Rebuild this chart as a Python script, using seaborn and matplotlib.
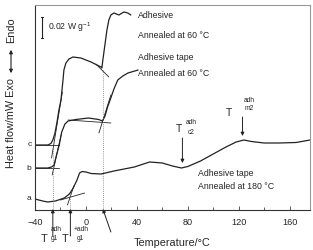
import matplotlib
matplotlib.use('Agg')
import pandas as pd
import matplotlib.pyplot as plt
import seaborn as sns

sns.set_theme(style="ticks")
plt.rcParams['font.family'] = ['Liberation Sans', 'DejaVu Sans']
plt.rcParams['mathtext.fontset'] = 'custom'
plt.rcParams['mathtext.rm'] = 'Liberation Sans'

# curve a: adhesive tape annealed at 180 C
a_temp = [-40, -34, -30, -24, -17, -13, -10, -7, -5, -3, 0, 4, 12, 22, 38, 50,
          60, 68, 75, 80, 90, 100, 110, 118, 124, 130, 140, 152, 165, 176]
a_flow = [11, 9, 8, 9, 12, 16, 22, 30, 37, 38.5, 38, 36.5, 36, 39, 43, 48,
          47, 44, 42, 43.5, 49, 56, 63, 68, 70, 68.5, 67, 67, 67.5, 70]

# curve b: adhesive tape annealed at 60 C
b_temp = [-40, -30, -27, -25, -23.5, -21, -19, -16.5, -14, -8, 2, 10, 13,
          15, 17, 19, 22, 25, 29, 33, 41]
b_flow = [42, 42, 43, 45, 53, 65, 78, 86, 89, 90.5, 92, 90.5, 89,
          94, 103, 110, 121, 130, 134, 137, 140]

# curve c: adhesive annealed at 60 C
c_temp = [-40, -30, -27.5, -26, -24.3, -22.7, -21.2, -19.6, -18, -17.3, -15.7,
          -13.3, -10.2, -4, 4, 11.8, 12.5, 13.3, 14.9, 16.5, 18, 19.6, 22,
          25.9, 29.8, 32.9, 35.3]
c_flow = [65, 65, 66.5, 70, 77, 88, 100, 110, 130, 140, 147,
          151, 153, 152, 148, 143, 142, 150, 165, 180, 190, 195, 197,
          195, 198, 197, 195]

# tangent construction lines (temp pair, flow pair)
tangent_temp = [(-40, -21), (-27, -18.5), (-40, -21), (-26.5, -19.5),
                (-20, -1), (-14.5, -9.5), (-14, 19.6), (10.2, 19.6), (7.8, 18)]
tangent_flow = [(65, 65), (52, 118), (42, 42), (35, 75),
                (10, 17), (5, 24), (90, 87), (77, 115), (146, 133)]

# dotted guide lines at the transitions
guide_temp = [-26, -12.2, 13.3]
guide_top = [62, 20, 140]

ink = '#222222'

df = pd.concat([
    pd.DataFrame({'T': a_temp, 'hf': a_flow, 'curve': 'a'}),
    pd.DataFrame({'T': b_temp, 'hf': b_flow, 'curve': 'b'}),
    pd.DataFrame({'T': c_temp, 'hf': c_flow, 'curve': 'c'}),
])

fig = plt.figure(figsize=(3.13, 2.5), dpi=100)
ax = fig.add_axes([35 / 313, 40 / 250, 275 / 313, 205 / 250])

sns.lineplot(data=df, x='T', y='hf', units='curve', estimator=None, sort=False,
             color=ink, lw=0.9, ax=ax, legend=False)

for tx, ty in zip(tangent_temp, tangent_flow):
    ax.plot(tx, ty, color=ink, lw=0.6)

for gx, gt in zip(guide_temp, guide_top):
    ax.plot([gx, gx], [0, gt], color='#777777', lw=0.6, ls=(0, (1, 1.5)))

ax.set_xlim(-40, 176)
ax.set_ylim(0, 205)
ax.set_xticks([-40, 0, 40, 80, 120, 160])
ax.set_xticks([-20, 20, 60, 100, 140], minor=True)
ax.set_yticks([])
ax.tick_params(axis='x', direction='in', length=3, width=0.6, labelsize=6.6,
               pad=6, color='#444444')
ax.tick_params(axis='x', which='minor', direction='in', length=2, width=0.6,
               color='#444444')
ax.set_xlabel('Temperature/°C', fontsize=7.8, labelpad=8)
ax.set_ylabel('')
for side in ['left', 'bottom']:
    ax.spines[side].set_color('#333333')
    ax.spines[side].set_linewidth(0.8)
for side in ['top', 'right']:
    ax.spines[side].set_color('#999999')
    ax.spines[side].set_linewidth(0.8)

# curve letters
for lab, yy in zip(['a', 'b', 'c'], [a_flow[0], b_flow[0], c_flow[0]]):
    ax.text(-44.5, yy, lab, fontsize=6, ha='center', va='center', clip_on=False)

# scale bar
ax.plot([-34.5, -34.5], [172, 193], color=ink, lw=0.8)
ax.plot([-35.6, -33.4], [193, 193], color=ink, lw=0.8)
ax.plot([-35.6, -33.4], [172, 172], color=ink, lw=0.8)
ax.text(-30, 183, '0.02 W g$^{-1}$', fontsize=6.2, va='center')

# curve descriptions
tfs = 6.3
ax.text(41, 195, 'Adhesive', fontsize=tfs, va='center')
ax.text(41, 175, 'Annealed at 60 °C', fontsize=tfs, va='center')
ax.text(41, 153, 'Adhesive tape', fontsize=tfs, va='center')
ax.text(41, 137, 'Annealed at 60 °C', fontsize=tfs, va='center')
ax.text(88, 36.5, 'Adhesive tape', fontsize=tfs, va='center')
ax.text(88, 23.3, 'Annealed at 180 °C', fontsize=tfs, va='center')

arrow = dict(arrowstyle='-|>', color=ink, lw=0.7, mutation_scale=5,
             shrinkA=0, shrinkB=0)

# transitions on curve a
ax.annotate('', xy=(75.8, 47), xytext=(75.8, 72), arrowprops=arrow)
ax.text(73.3, 81, 'T', fontsize=7.5, ha='center', va='center')
ax.text(83, 87, 'adh', fontsize=4.8, ha='center', va='center')
ax.text(82.4, 78, 'c2', fontsize=4.8, ha='center', va='center')

ax.annotate('', xy=(123, 74), xytext=(123, 93), arrowprops=arrow)
ax.text(112.5, 96.5, 'T', fontsize=7.5, ha='center', va='center')
ax.text(128, 109.5, 'adh', fontsize=4.8, ha='center', va='center')
ax.text(128, 101, 'm2', fontsize=4.8, ha='center', va='center')

# glass transition arrows below the axis
ax.annotate('', xy=(-26, 1), xytext=(-26, -26), arrowprops=arrow,
            annotation_clip=False)
ax.annotate('', xy=(-12.2, 1), xytext=(-12.2, -26), arrowprops=arrow,
            annotation_clip=False)
ax.annotate('', xy=(13.3, 1), xytext=(19.6, -22), arrowprops=arrow,
            annotation_clip=False)
for tx, sx, sup in [(-33, -23.5, 'adh'), (-16, -3.5, '+adh')]:
    ax.text(tx, -29, 'T', fontsize=7.8, ha='center', va='center', clip_on=False)
    ax.text(sx, -19.5, sup, fontsize=4.8, ha='center', va='center', clip_on=False)
    ax.text(sx - 1, -29, 'g1', fontsize=4.8, ha='center', va='center',
            clip_on=False)

# y label with double arrow
fig.text(11 / 313, 1 - 168 / 250, 'Heat flow/mW Exo', rotation=90, fontsize=7.8,
         ha='center', va='bottom')
fig.text(11 / 313, 1 - 17 / 250, 'Endo', rotation=90, fontsize=7.8,
         ha='center', va='top')
fig.add_artist(matplotlib.patches.FancyArrowPatch(
    (11 / 313, 1 - 76 / 250), (11 / 313, 1 - 47 / 250),
    transform=fig.transFigure, arrowstyle='<|-|>', mutation_scale=5,
    color=ink, lw=0.8))

fig.savefig('out.png', dpi=100)
plt.close(fig)
